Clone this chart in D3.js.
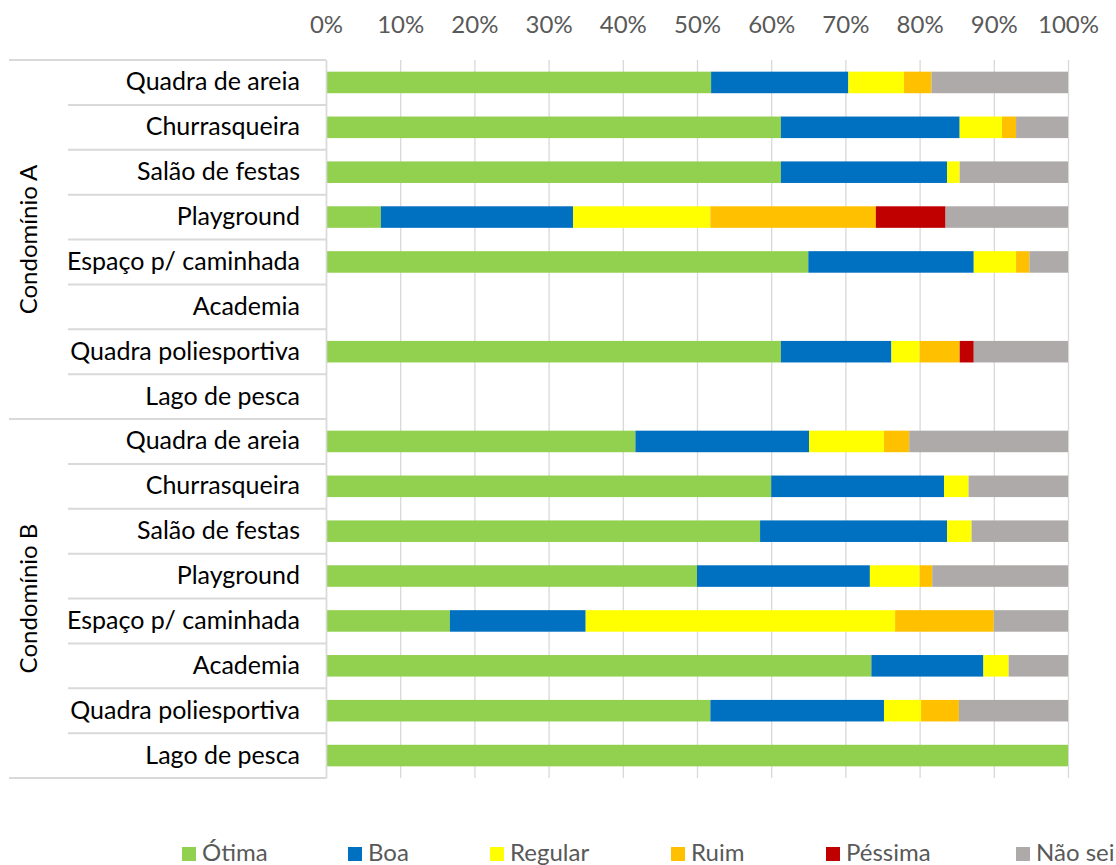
<!DOCTYPE html>
<html>
<head>
<meta charset="utf-8">
<script src="https://cdn.jsdelivr.net/npm/d3@7"></script>
<style>
  body { margin: 0; background: #fff; }
  svg { display: block; font-family: Lato, "Open Sans", sans-serif; }
</style>
</head>
<body>
<svg width="1116" height="865"></svg>
<script>
const GROUPS = ["Condomínio A", "Condomínio B"];
const FACILITIES = ["Quadra de areia", "Churrasqueira", "Salão de festas", "Playground",
  "Espaço p/ caminhada", "Academia", "Quadra poliesportiva", "Lago de pesca"];
const SERIES = ["Ótima", "Boa", "Regular", "Ruim", "Péssima", "Não sei"];
const COLORS = ["#92D050", "#0070C0", "#FFFF00", "#FFC000", "#C00000", "#AEAAAA"];
const TICKS = [0, 10, 20, 30, 40, 50, 60, 70, 80, 90, 100];

// percentages, Condomínio A rows then Condomínio B rows
const otima   = [51.9, 61.3, 61.3,  7.4, 65.0, 0, 61.3, 0,  41.7, 60.0, 58.5, 50.0, 16.7, 73.5, 51.8, 100];
const boa     = [18.5, 24.1, 22.4, 25.9, 22.3, 0, 14.9, 0,  23.4, 23.3, 25.2, 23.3, 18.3, 15.1, 23.4, 0];
const regular = [ 7.5,  5.7,  1.7, 18.5,  5.7, 0,  3.8, 0,  10.1,  3.3,  3.3,  6.7, 41.7,  3.4,  5.0, 0];
const ruim    = [ 3.7,  1.9,  0,   22.3,  1.8, 0,  5.4, 0,   3.4,  0,    0,    1.7, 13.3,  0,    5.1, 0];
const pessima = [ 0,    0,    0,    9.4,  0,   0,  1.9, 0,   0,    0,    0,    0,    0,    0,    0,   0];
const naoSei  = [18.4,  7.0, 14.6, 16.5,  5.2, 0, 12.7, 0,  21.4, 13.4, 13.0, 18.3, 10.0,  8.0, 14.7, 0];

const seriesValues = [otima, boa, regular, ruim, pessima, naoSei];

// build rows
let rows = [];
GROUPS.forEach((g, gi) => {
  FACILITIES.forEach((f, fi) => {
    let idx = gi * FACILITIES.length + fi;
    let row = { key: g + "|" + f, group: g, name: f };
    SERIES.forEach((s, si) => { row[s] = seriesValues[si][idx]; });
    rows.push(row);
  });
});

const svg = d3.select("svg");
const plotLeft = 326, plotRight = 1068, plotTop = 60, plotBottom = 778;
const FONT = 24;
const gridColor = "#d9d9d9";
const textColor = "#595959";

let x = d3.scaleLinear().domain([0, 100]).range([plotLeft, plotRight]);
let y = d3.scaleBand().domain(rows.map(d => d.key)).range([plotTop, plotBottom])
  .paddingInner(0.52).paddingOuter(0.26);
let color = d3.scaleOrdinal().domain(SERIES).range(COLORS);

// gridlines
svg.append("g")
  .attr("transform", "translate(0," + plotTop + ")")
  .call(d3.axisBottom(x).tickValues(TICKS).tickSize(plotBottom - plotTop).tickFormat(""))
  .call(g => g.select(".domain").remove())
  .call(g => g.selectAll("line").attr("stroke", gridColor).attr("stroke-width", 1.3));

// top axis labels
svg.append("g")
  .attr("transform", "translate(0," + plotTop + ")")
  .call(d3.axisTop(x).tickValues(TICKS).tickSize(0).tickPadding(27).tickFormat(d => d + "%"))
  .call(g => g.select(".domain").remove())
  .call(g => g.selectAll("text").attr("fill", textColor).style("font-size", FONT + "px")
    .style("font-family", "Lato, sans-serif"));

// stacked bars
let stacked = d3.stack().keys(SERIES)(rows);
svg.append("g")
  .selectAll("g")
  .data(stacked)
  .enter()
  .append("g")
  .attr("fill", d => color(d.key))
  .selectAll("rect")
  .data(d => d.filter(p => p[1] - p[0] > 0))
  .enter()
  .append("rect")
  .attr("x", d => x(d[0]))
  .attr("width", d => x(d[1]) - x(d[0]))
  .attr("y", d => y(d.data.key))
  .attr("height", y.bandwidth());

// category axis
svg.append("g")
  .attr("transform", "translate(" + plotLeft + ",0)")
  .call(d3.axisLeft(y).tickSize(0).tickPadding(26).tickFormat(k => k.split("|")[1]))
  .call(g => g.select(".domain").attr("stroke", gridColor).attr("stroke-width", 1.5))
  .call(g => g.selectAll("text").attr("fill", "#000").style("font-size", "25px")
    .style("font-family", "Lato, sans-serif"));

// separator lines
let half = y.step() * y.paddingInner() / 2;
let seps = rows.map((d, i) => ({ pos: y(d.key) - half, outer: i % FACILITIES.length === 0 }));
seps.push({ pos: y(rows[rows.length - 1].key) + y.bandwidth() + half, outer: true });
svg.append("g")
  .selectAll("line")
  .data(seps)
  .enter()
  .append("line")
  .attr("x1", d => d.outer ? 9 : 68)
  .attr("x2", plotLeft)
  .attr("y1", d => d.pos)
  .attr("y2", d => d.pos)
  .attr("stroke", gridColor)
  .attr("stroke-width", 2);

// group labels
svg.append("g")
  .selectAll("text")
  .data(GROUPS)
  .enter()
  .append("text")
  .attr("transform", g => {
    let keys = rows.filter(r => r.group === g).map(r => r.key);
    let cy = (y(keys[0]) + y(keys[keys.length - 1]) + y.bandwidth()) / 2;
    return "translate(37," + cy + ") rotate(-90)";
  })
  .attr("text-anchor", "middle")
  .style("font-size", FONT + "px")
  .attr("fill", "#000")
  .text(g => g);

// legend
const legendX = [182, 348, 490, 671, 826, 1016];
let legend = svg.append("g")
  .selectAll("g")
  .data(SERIES)
  .enter()
  .append("g")
  .attr("transform", (d, i) => "translate(" + legendX[i] + ",847)");
legend.append("rect").attr("width", 14).attr("height", 14).attr("fill", d => color(d));
legend.append("text")
  .attr("x", 20)
  .attr("y", 14)
  .attr("fill", textColor)
  .style("font-size", FONT + "px")
  .text(d => d);
</script>
</body>
</html>
